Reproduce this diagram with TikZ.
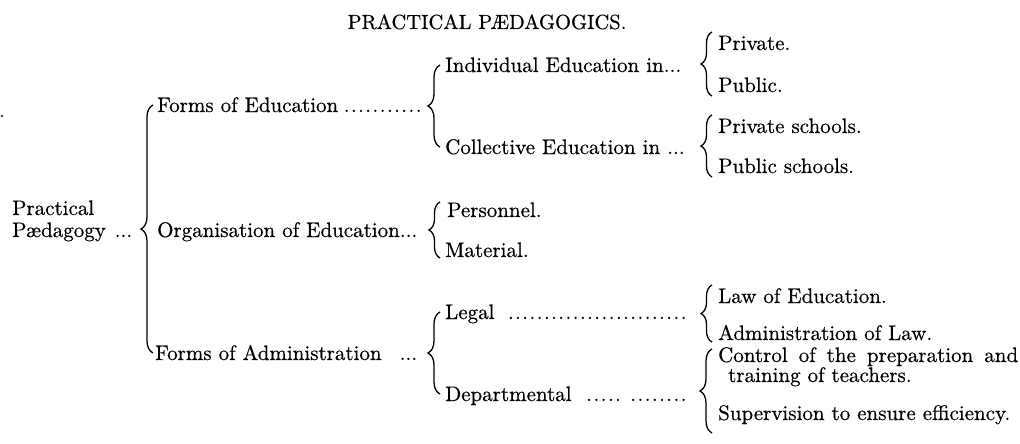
\documentclass[tikz,border=0pt]{standalone}
\usepackage{fontspec}
\setmainfont{lmroman10-regular.otf}[FakeBold=0.5]
\usetikzlibrary{decorations.pathreplacing,calc}
\newcommand\dotlead[1]{\hbox to #1{\cleaders\hbox to 7.2pt{\hss.\hss}\hfill}}
\begin{document}
\begin{tikzpicture}[x=1pt,y=-1pt,
  every node/.style={inner sep=0pt, anchor=west, text height=14pt, text depth=0pt,
    font=\fontsize{21}{21}\selectfont},
  br/.style={decorate, decoration={brace, amplitude=#1}, line width=1.3pt},
  br/.default=11]
\useasboundingbox (0,0) rectangle (1020,444);
% title
\node[anchor=center] (title) at (487,22) {\fontsize{20.5}{20.5}\selectfont PRACTICAL PÆDAGOGICS.};
\fill (2,116) circle (1.1pt);
% level 0
\node (prac) at (12,208) {Practical};
\node (paed) at (12,230) {\hbox to 120pt{Pædagogy\hfill...}};
% level 1
\node (frmed) at (157,105) {\hbox to 265pt{Forms of Education\hfill\dotlead{79.2pt}}};
\node (org) at (157,230) {Organisation of Education...};
\node (frmadm) at (155,353) {\hbox to 262pt{Forms of Administration\hfill...}};
% level 2
\node (ind) at (445,65) {Individual Education in...};
\node (coll) at (445,147) {Collective Education in ...};
\node (pers) at (447,210) {Personnel.};
\node (mat) at (445,250) {Material.};
\node (legal) at (445,312) {\hbox to 242pt{Legal\hfill\dotlead{180pt}}};
\node (dept) at (445,394) {\hbox to 242pt{Departmental\hfill\dotlead{36pt}\hspace{8pt}\dotlead{57.6pt}}};
% level 3
\node (priv) at (718,43) {Private.};
\node (pub) at (718,85) {Public.};
\node (privs) at (718,126) {Private schools.};
\node (pubs) at (718,166) {Public schools.};
\node (law) at (718,296) {Law of Education.};
\node (adlaw) at (718,333) {Administration of Law.};
\node (ctl) at (718,355) {\hbox to 300pt{Control \hfil of \hfil the \hfil preparation \hfil and}};
\node (trn) at (728,375) {training of teachers.};
\node (sup) at (718,413) {Supervision to ensure efficiency.};
% braces
\draw[br=12] ($(frmed.west|-frmadm.west)+(-4,0)$) -- ($(frmed.west)+(-4,0)$);
\draw[br=12] ($(ind.west|-coll.west)+(-5,0)$) -- ($(ind.west)+(-5,0)$);
\draw[br=11] ($(mat.west)+(-5,8)$) -- ($(mat.west|-pers.west)+(-5,-8)$);
\draw[br=12] ($(legal.west|-dept.west)+(-5,0)$) -- ($(legal.west)+(-5,0)$);
\draw[br=11] ($(pub.west)+(-6,11)$) -- ($(priv.west)+(-6,-11)$);
\draw[br=11] ($(pubs.west)+(-6,11)$) -- ($(privs.west)+(-6,-11)$);
\draw[br=11] ($(adlaw.west)+(-6,9)$) -- ($(law.west)+(-6,-11)$);
\draw[br=12] ($(sup.west)+(-6,20)$) -- ($(ctl.west)+(-6,-6)$);
\end{tikzpicture}
\end{document}
